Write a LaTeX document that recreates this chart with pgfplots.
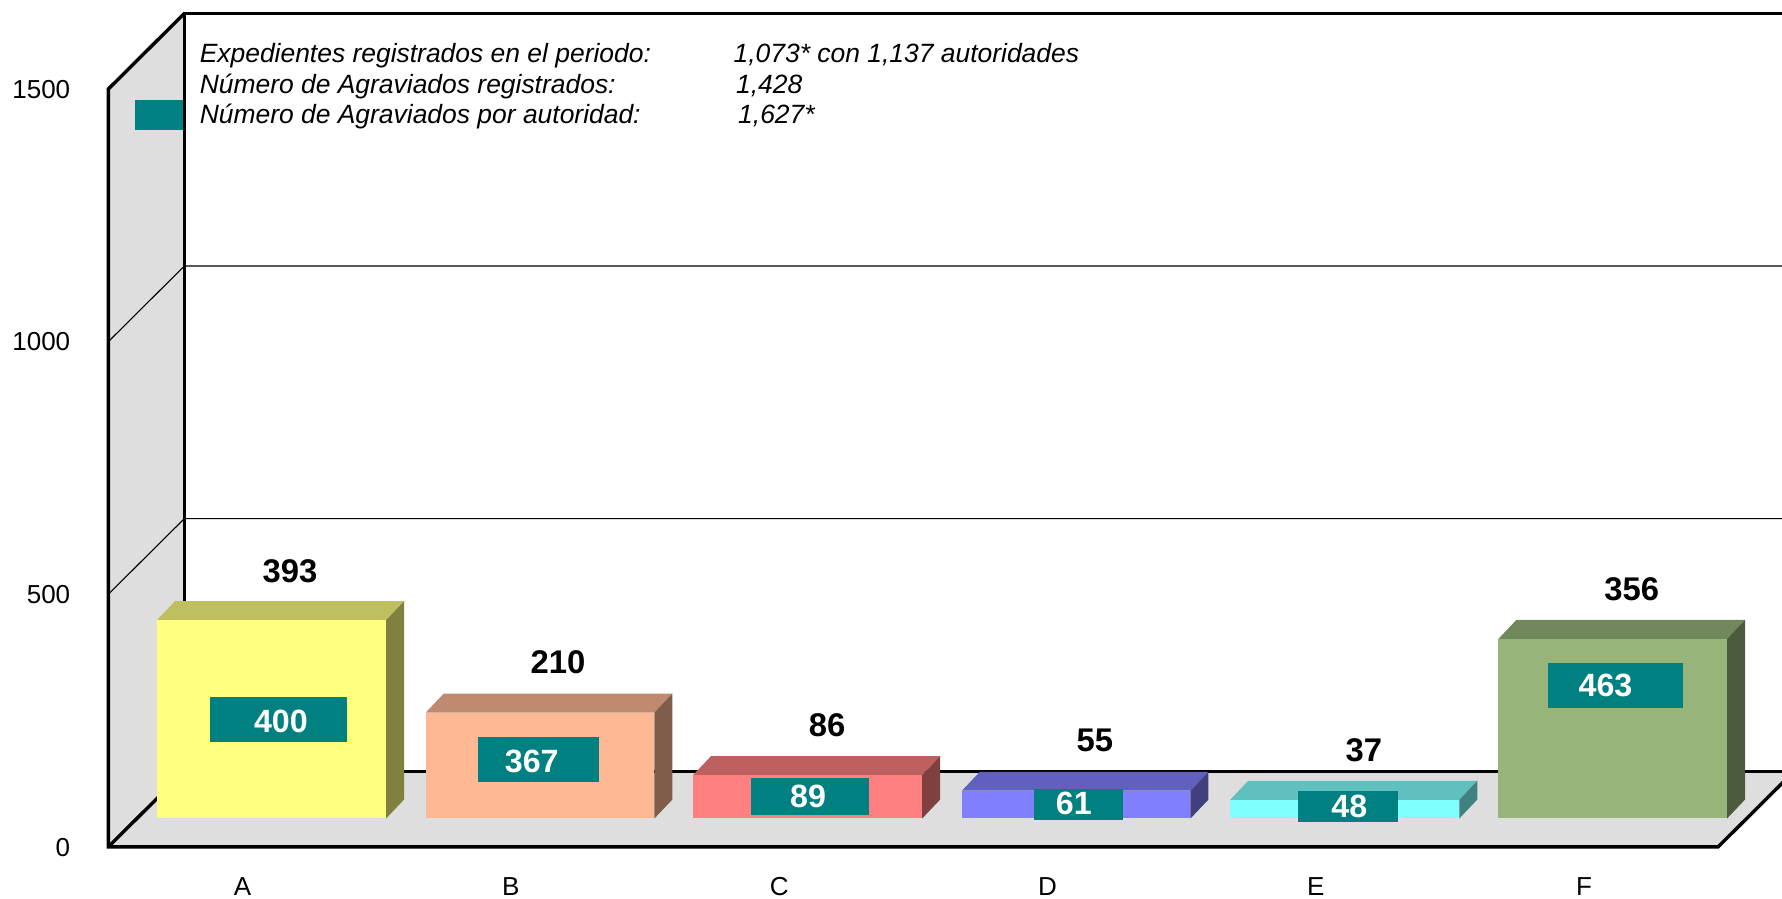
\documentclass[border=0pt]{standalone}
\usepackage{pgfplots}
\usepackage{fontspec}
\setmainfont{Liberation Sans}
\pgfplotsset{compat=1.18}
\definecolor{wallgray}{HTML}{DEDEDE}
\definecolor{labelteal}{HTML}{008080}
\definecolor{aF}{HTML}{FFFF80}\definecolor{aT}{HTML}{BFBF60}\definecolor{aS}{HTML}{808040}
\definecolor{bF}{HTML}{FFB894}\definecolor{bT}{HTML}{BF8A6F}\definecolor{bS}{HTML}{805C4A}
\definecolor{cF}{HTML}{FF8080}\definecolor{cT}{HTML}{BF6060}\definecolor{cS}{HTML}{804040}
\definecolor{dF}{HTML}{8080FF}\definecolor{dT}{HTML}{6060BF}\definecolor{dS}{HTML}{404080}
\definecolor{eF}{HTML}{80FFFF}\definecolor{eT}{HTML}{60BFBF}\definecolor{eS}{HTML}{408080}
\definecolor{fF}{HTML}{97B47A}\definecolor{fT}{HTML}{71875C}\definecolor{fS}{HTML}{4C5A3D}
% #1 left edge, #2 right edge, #3 left+depth, #4 right+depth, #5 value, #6 value+depth, #7 colour prefix
\newcommand{\solid}[7]{%
  \addplot[fill=#7T,draw=none] coordinates {(#1,#5) (#3,#6) (#4,#6) (#2,#5)} -- cycle;
  \addplot[fill=#7S,draw=none] coordinates {(#2,0) (#4,37.6) (#4,#6) (#2,#5)} -- cycle;
  \addplot[fill=#7F,draw=none] coordinates {(#1,0) (#2,0) (#2,#5) (#1,#5)} -- cycle;
}
\newcommand{\boldlabel}[3]{%
  \addplot[draw=none,mark=none,nodes near coords={#3},
    every node near coord/.append style={anchor=center,inner sep=0pt,text=black,font=\fontsize{16.4}{18}\selectfont\bfseries}]
    coordinates {(#1,#2)};
}
\newcommand{\tealbox}[7]{%
  \addplot[draw=none,mark=none,nodes near coords={\phantom{0}},
    every node near coord/.append style={anchor=center,inner sep=0pt,fill=labelteal,minimum width=#3pt,minimum height=#4pt,font=\fontsize{5}{5}\selectfont}]
    coordinates {(#1,#2)};
  \addplot[draw=none,mark=none,nodes near coords={#7},
    every node near coord/.append style={anchor=center,inner sep=0pt,text=white,font=\fontsize{16.1}{18}\selectfont\bfseries}]
    coordinates {(#5,#6)};
}
\pgfplotsset{
  sketchaxis/.style={
    scale only axis, width=842.9pt, height=416.3pt,
    xmin=-0.5, xmax=5.7833, ymin=0, ymax=1649.6,
    clip=false, anchor=south west,
    axis line style={draw=none}, major tick length=0pt, tick style={draw=none},
  }
}
\begin{document}
\begin{tikzpicture}[x=1pt,y=1pt]
\path[use as bounding box] (0,0) rectangle (891,449.5);
\begin{axis}[sketchaxis, at={(54.2pt,26.1pt)}, height=416.7pt,
  xtick={0,1,2,3,4,5}, xticklabels={A,B,C,D,E,F},
  ytick={0,500,1000,1500}, yticklabels={0,500,1000,1500},
  xticklabel style={anchor=north,inner sep=0pt,yshift=-15.2pt,font=\fontsize{13}{15}\selectfont},
  yticklabel style={anchor=east,inner sep=0pt,xshift=-18.9pt,yshift=-0.2pt,font=\fontsize{13}{15}\selectfont},
]
% walls
\addplot[fill=wallgray,draw=none] coordinates {(-0.5,0) (-0.5,1500) (-0.2167,1649.6) (-0.2167,149.6)} -- cycle;
\addplot[fill=wallgray,draw=none] coordinates {(-0.5,0) (5.5,0) (5.7833,149.6) (-0.2167,149.6)} -- cycle;
% legend key behind the text box
\addplot[fill=labelteal,draw=none] coordinates {(-0.399,1418.6) (-0.217,1418.6) (-0.217,1478) (-0.399,1478)} -- cycle;
% gridlines
\addplot[black,line width=0.55pt] coordinates {(-0.5,500) (-0.2167,649.6) (5.7833,649.6)};
\addplot[black,line width=0.55pt] coordinates {(-0.5,1000) (-0.2167,1149.6) (5.7833,1149.6)};
% frame
\addplot[black,line width=1.7pt,line join=miter] coordinates {(-0.2167,149.6) (-0.2167,1649.6) (5.7833,1649.6)};
\addplot[black,line width=1.7pt] coordinates {(-0.2167,149.6) (5.7833,149.6)};
\addplot[black,line width=1.7pt] coordinates {(-0.2167,1649.6) (-0.5,1500) (-0.5,0) (5.5,0) (5.7833,149.6)};
\addplot[black,line width=1.7pt] coordinates {(-0.5,0) (-0.2167,149.6)};
% text
\def\af{\fontsize{13.22}{15}\selectfont\itshape}
\node[anchor=base west,inner sep=0pt,font=\af] at (axis cs:-0.161,1552) {Expedientes registrados en el periodo:};
\node[anchor=base west,inner sep=0pt,font=\af] at (axis cs:-0.161,1491.6) {Número de Agraviados registrados:};
\node[anchor=base west,inner sep=0pt,font=\af] at (axis cs:-0.161,1431) {Número de Agraviados por autoridad:};
\node[anchor=base west,inner sep=0pt,font=\af] at (axis cs:1.829,1552) {1,073* con 1,137 autoridades};
\node[anchor=base west,inner sep=0pt,font=\af] at (axis cs:1.838,1491.6) {1,428};
\node[anchor=base west,inner sep=0pt,font=\af] at (axis cs:1.846,1431) {1,627*};
\end{axis}
\begin{axis}[sketchaxis, at={(68.7pt,40.25pt)}, xtick=\empty, ytick=\empty]
\solid{-0.427}{0.427}{-0.36}{0.494}{393}{430.6}{a}
\solid{0.575}{1.427}{0.642}{1.494}{210}{247.6}{b}
\solid{1.571}{2.425}{1.638}{2.492}{86}{123.6}{c}
\solid{2.573}{3.425}{2.64}{3.492}{55}{92.6}{d}
\solid{3.573}{4.427}{3.64}{4.494}{37}{74.6}{e}
\solid{4.573}{5.425}{4.64}{5.492}{356}{393.6}{f}
\boldlabel{0.069}{490.8}{393}
\boldlabel{1.068}{308.7}{210}
\boldlabel{2.071}{185.3}{86}
\boldlabel{3.069}{154.2}{55}
\boldlabel{4.071}{135.7}{37}
\boldlabel{5.070}{454.7}{356}
\tealbox{0.026}{196.6}{68.5}{22.5}{0.035}{193}{400}
\tealbox{0.996}{116.9}{60.5}{22.5}{0.970}{113.9}{367}
\tealbox{2.008}{43.6}{59}{18.5}{2.000}{43}{89}
\tealbox{3.009}{27.7}{44.5}{15.5}{2.990}{30.7}{61}
\tealbox{4.012}{23.8}{50}{15.5}{4.017}{23.4}{48}
\tealbox{5.008}{263.9}{67.5}{22.5}{4.972}{264.5}{463}
\end{axis}
\end{tikzpicture}
\end{document}
